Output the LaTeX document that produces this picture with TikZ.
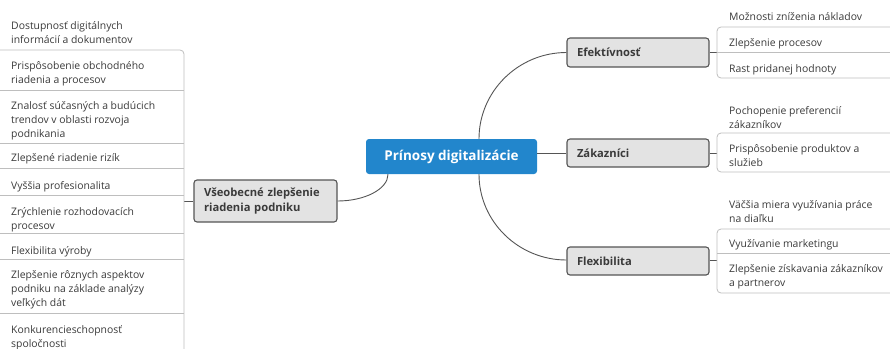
\documentclass[tikz,border=0pt]{standalone}
\usepackage{fontspec}
\setmainfont{Open Sans}
\definecolor{cblue}{RGB}{34,134,204}
\definecolor{ctext}{RGB}{58,58,58}
\definecolor{cline}{RGB}{190,190,190}
\definecolor{cconn}{RGB}{85,85,85}
\definecolor{cbox}{RGB}{227,227,227}
\newcommand\ml[1]{\vtop{\baselineskip=14pt\relax #1}}
\begin{document}
\begin{tikzpicture}[x=1pt,y=-1pt,
  leaf/.style={inner sep=0pt, text=ctext, font=\fontsize{10.4}{14}\selectfont},
  leafl/.style={leaf, anchor=base west},
  branch/.style={draw=cconn, line width=1.1pt, fill=cbox, rounded corners=3pt,
     text=ctext, font=\fontsize{11.2}{14.5}\selectfont\bfseries, align=left,
     inner xsep=10pt, inner ysep=0pt, anchor=center},
  central/.style={fill=cblue, rounded corners=3pt, text=white,
     font=\fontsize{13.5}{15}\selectfont\bfseries, minimum width=171pt, minimum height=35pt, inner sep=0pt},
  conn/.style={draw=cconn, line width=0.9pt},
  brk/.style={draw=cline, line width=0.8pt, rounded corners=4pt}
]
\useasboundingbox (0,0) rectangle (890,348);

% central
\node[central] (c) at (451.5,156.5) {Prínosy digitalizácie};

% branches
\node[branch, text width=122pt, minimum height=29pt] (ef) at (638,52.5) {Efektívnosť};
\node[branch, text width=122pt, minimum height=28pt] (za) at (638,153) {Zákazníci};
\node[branch, text width=122pt, minimum height=28pt] (fl) at (638,261) {Flexibilita};
\node[branch, text width=123pt, minimum height=42pt] (vs) at (265.5,201) {Všeobecné zlepšenie\\riadenia podniku};

% connectors central -> branches
\draw[conn] ([xshift=27.5pt]c.north) .. controls (479,91.3) and (518.4,52.5) .. (ef.west);
\draw[conn] (c.east |- za.west) -- (za.west);
\draw[conn] ([xshift=27.5pt]c.south) .. controls (479,221.5) and (518.4,260) .. ([yshift=1pt]fl.west);
\draw[conn] (vs.east) .. controls (365,201) and (388,189) .. ([xshift=-63.5pt]c.south);

% ---------- right: Efektivnost leaves
\coordinate (efj) at (717,52.5);
\draw[conn] (ef.east) -- (efj);
\draw[brk] (890,27) -- (717,27) -- (717,78) -- (890,78);
\draw[brk] (efj) -- (890,52.5);
\node[leafl] (e1) at (729,20) {Možnosti zníženia nákladov};
\node[leafl] (e2) at (729,46) {Zlepšenie procesov};
\node[leafl] (e3) at (729,72) {Rast pridanej hodnoty};

% ---------- right: Zakaznici leaves
\coordinate (zaj) at (717,153);
\draw[conn] (za.east) -- (zaj);
\draw[brk] (890,133) -- (717,133) -- (717,172) -- (890,172);
\node[leafl] (z1) at (729,114) {\ml{\hbox{Pochopenie preferencií}\hbox{zákazníkov}}};
\node[leafl] (z2) at (729,152) {\ml{\hbox{Prispôsobenie produktov a}\hbox{služieb}}};

% ---------- right: Flexibilita leaves
\coordinate (flj) at (717,260);
\draw[conn] ([yshift=1pt]fl.east) -- (flj);
\draw[brk] (890,229) -- (717,229) -- (717,293) -- (890,293);
\draw[brk] (717,253) -- (890,253);
\node[leafl] (f1) at (729,208) {\ml{\hbox{Väčšia miera využívania práce}\hbox{na diaľku}}};
\node[leafl] (f2) at (729,247) {Využívanie marketingu};
\node[leafl] (f3) at (729,272) {\ml{\hbox{Zlepšenie získavania zákazníkov}\hbox{a partnerov}}};

% ---------- left leaves
\coordinate (vsj) at (184,201);
\draw[conn] (vs.west) -- (vsj);
\draw[brk] (0,50) -- (184,50) -- (184,360);
\foreach \yy in {90,143,168,195,233,259,313}{
  \draw[brk] (0,\yy) -- (184,\yy);
}
\node[leafl] (l1) at (11,29) {\ml{\hbox{Dostupnosť digitálnych}\hbox{informácií a dokumentov}}};
\node[leafl] (l2) at (11,69) {\ml{\hbox{Prispôsobenie obchodného}\hbox{riadenia a procesov}}};
\node[leafl] (l3) at (11,109) {\ml{\hbox{Znalosť súčasných a budúcich}\hbox{trendov v oblasti rozvoja}\hbox{podnikania}}};
\node[leafl] (l4) at (11,161) {Zlepšené riadenie rizík};
\node[leafl] (l5) at (11,189) {Vyššia profesionalita};
\node[leafl] (l6) at (11,215) {\ml{\hbox{Zrýchlenie rozhodovacích}\hbox{procesov}}};
\node[leafl] (l7) at (11,254) {Flexibilita výroby};
\node[leafl] (l8) at (11,278) {\ml{\hbox{Zlepšenie rôznych aspektov}\hbox{podniku na základe analýzy}\hbox{veľkých dát}}};
\node[leafl] (l9) at (11,333) {\ml{\hbox{Konkurencieschopnosť}\hbox{spoločnosti}}};
\end{tikzpicture}
\end{document}
